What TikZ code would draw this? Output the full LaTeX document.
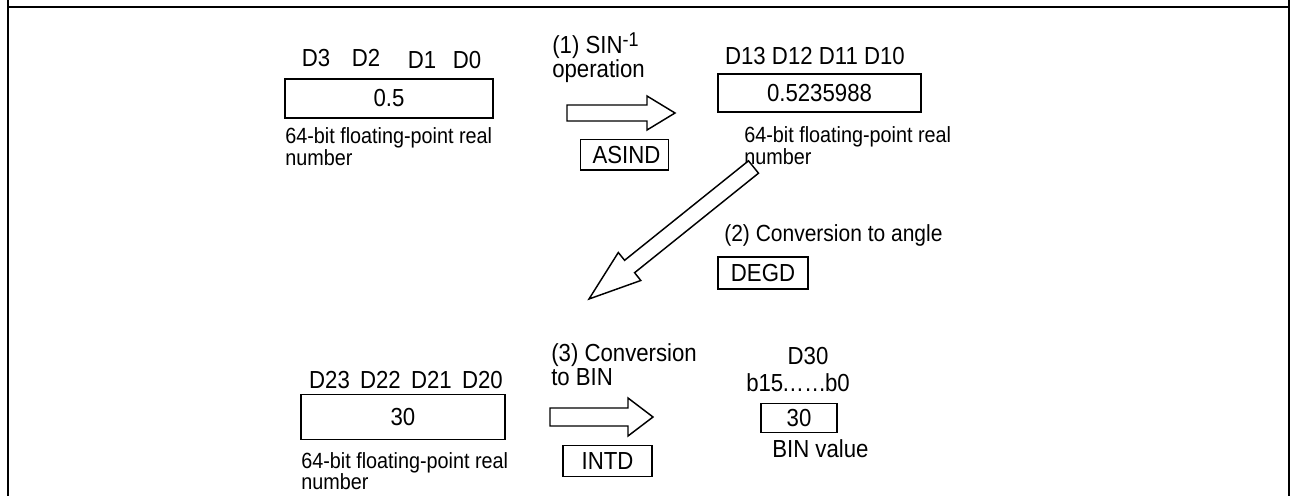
\documentclass[tikz,border=0pt]{standalone}
\usepackage{fontspec}
\setmainfont{Liberation Sans}[FakeStretch=0.9]
\usetikzlibrary{positioning}

\begin{document}
\begin{tikzpicture}[x=0.75pt,y=-0.75pt,
every node/.style={font=\fontsize{18.5}{17.5}\selectfont,inner sep=0pt},
regbox/.style={draw,line width=1.1pt},
desc/.style={font=\fontsize{16.5}{16.9}\selectfont,align=left,anchor=north west},
lbl/.style={anchor=base},
oplbl/.style={align=left,anchor=base west},
blockarr/.style={draw,line width=1.1pt,line join=miter,fill=white},
frame/.style={line width=1.5pt}
]
\useasboundingbox (0,0) rectangle (1293,496);
\draw[frame] (8,0) -- (8,496) (1289,0) -- (1289,496) (8,6.7) -- (1289,6.7);

% source value
\node[lbl] (d3) at (316,66) {D3};
\node[lbl] (d2) at (366,66) {D2};
\node[lbl] (d1) at (422,68) {D1};
\node[lbl] (d0) at (467,68) {D0};
\node[regbox,minimum width=156pt,minimum height=29.25pt] (src) at (389,98.5) {0.5};
\node[desc] (srcd) at (285,127) {64-bit floating-point real\\number};

% (1) SIN-1 operation
\node[oplbl] (op1) at (552,77) {(1) SIN\raisebox{0.55ex}{\fontsize{15}{15}\selectfont -1}\\operation};
\draw[blockarr] (567,105) -- (647,105) -- (647,96) -- (675,113) -- (647,130) -- (647,121) -- (567,121) -- cycle;
\node[regbox,minimum width=65.7pt,minimum height=23pt] (asind) at (624.5,154.7) {\hspace{3pt}ASIND};

% radian result
\node[lbl] (d1x) at (815,64.3) {D13 D12 D11 D10};
\node[regbox,minimum width=152.25pt,minimum height=28.5pt] (rad) at (819.5,93) {0.5235988};
\node[desc] (radd) at (744,126) {64-bit floating-point real\\number};

% (2) conversion to angle
\draw[blockarr] (589,299) -- (618.3,252.5) -- (624.6,260.3) -- (748.5,160.8) -- (758.5,173.2) -- (634.6,272.7) -- (640.8,280.5) -- cycle;
\node[oplbl,font=\fontsize{17.5}{21}\selectfont] (op2) at (724,241) {(2) Conversion to angle};
\node[regbox,minimum width=67.5pt,minimum height=24pt] (degd) at (763,273) {DEGD};

% angle value
\node[lbl] (d2x) at (406,388) {D23 \,D22 \,D21 \,D20};
\node[regbox,minimum width=153pt,minimum height=34pt] (ang) at (403,417) {30};
\node[desc,font=\fontsize{16.5}{15.75}\selectfont] (angd) at (301,452) {64-bit floating-point real\\number};

% (3) conversion to BIN
\node[oplbl] (op3) at (551,385) {(3) Conversion\\to BIN};
\draw[blockarr] (550,408) -- (628,408) -- (628,398) -- (653,417) -- (628,436) -- (628,426) -- (550,426) -- cycle;
\node[regbox,minimum width=66.75pt,minimum height=23pt] (intd) at (607.5,461) {INTD};

% BIN result
\node[lbl] (d30) at (808,364) {D30};
\node[anchor=base east] (bits) at (850,391) {b15\kern-1pt……\kern-1pt b0};
\node[regbox,minimum width=57pt,minimum height=22pt] (bin) at (799,418) {30};
\node[anchor=base west] (bind) at (772,457) {BIN value};
\end{tikzpicture}
\end{document}
